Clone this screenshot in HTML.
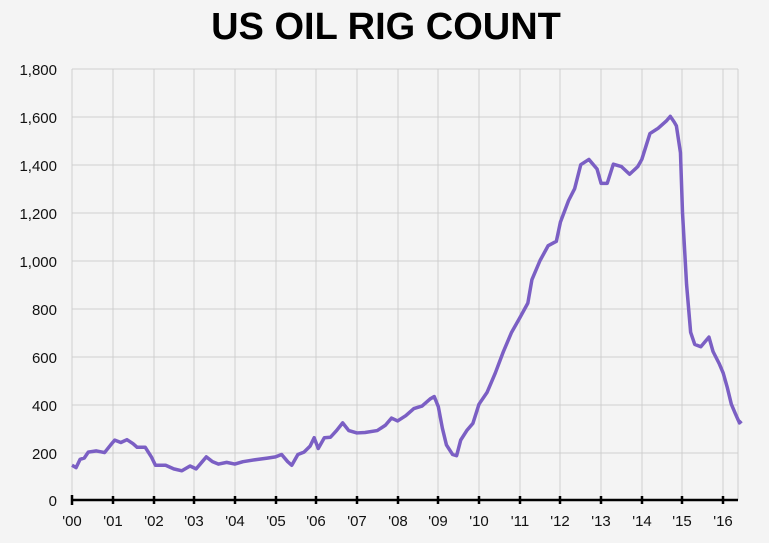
<!DOCTYPE html>
<html><head><style>
body{margin:0;background:#f4f4f4;width:769px;height:543px;overflow:hidden;font-family:"Liberation Sans",sans-serif}
</style></head><body>
<svg width="769" height="543" xmlns="http://www.w3.org/2000/svg" style="position:absolute;left:0;top:0">
<rect width="769" height="543" fill="#f4f4f4"/>
<text x="386" y="39" text-anchor="middle" font-family="Liberation Sans, sans-serif" font-weight="bold" font-size="38" fill="#000">US OIL RIG COUNT</text>
<g stroke="#cfcfcf" stroke-width="1">
<line x1="72" x2="738" y1="69" y2="69"/><line x1="72" x2="738" y1="117" y2="117"/><line x1="72" x2="738" y1="165" y2="165"/><line x1="72" x2="738" y1="213" y2="213"/><line x1="72" x2="738" y1="261" y2="261"/><line x1="72" x2="738" y1="309" y2="309"/><line x1="72" x2="738" y1="357" y2="357"/><line x1="72" x2="738" y1="405" y2="405"/><line x1="72" x2="738" y1="453" y2="453"/>
<line x1="72" x2="72" y1="69" y2="500"/><line x1="113" x2="113" y1="69" y2="500"/><line x1="154" x2="154" y1="69" y2="500"/><line x1="194" x2="194" y1="69" y2="500"/><line x1="235" x2="235" y1="69" y2="500"/><line x1="276" x2="276" y1="69" y2="500"/><line x1="316" x2="316" y1="69" y2="500"/><line x1="357" x2="357" y1="69" y2="500"/><line x1="398" x2="398" y1="69" y2="500"/><line x1="438" x2="438" y1="69" y2="500"/><line x1="479" x2="479" y1="69" y2="500"/><line x1="520" x2="520" y1="69" y2="500"/><line x1="560" x2="560" y1="69" y2="500"/><line x1="601" x2="601" y1="69" y2="500"/><line x1="642" x2="642" y1="69" y2="500"/><line x1="682" x2="682" y1="69" y2="500"/><line x1="723" x2="723" y1="69" y2="500"/><line x1="738" x2="738" y1="69" y2="500"/>
</g>
<g font-family="Liberation Sans, sans-serif" font-size="15" fill="#111" text-anchor="end">
<text x="57" y="75">1,800</text><text x="57" y="123">1,600</text><text x="57" y="171">1,400</text><text x="57" y="219">1,200</text><text x="57" y="267">1,000</text><text x="57" y="315">800</text><text x="57" y="363">600</text><text x="57" y="411">400</text><text x="57" y="459">200</text><text x="57" y="506">0</text>
</g>
<g font-family="Liberation Sans, sans-serif" font-size="15" fill="#111" text-anchor="middle">
<text x="72" y="526">'00</text><text x="113" y="526">'01</text><text x="154" y="526">'02</text><text x="194" y="526">'03</text><text x="235" y="526">'04</text><text x="276" y="526">'05</text><text x="316" y="526">'06</text><text x="357" y="526">'07</text><text x="398" y="526">'08</text><text x="438" y="526">'09</text><text x="479" y="526">'10</text><text x="520" y="526">'11</text><text x="560" y="526">'12</text><text x="601" y="526">'13</text><text x="642" y="526">'14</text><text x="682" y="526">'15</text><text x="723" y="526">'16</text>
</g>
<g stroke="#000" stroke-width="2.5">
<line x1="72" x2="738" y1="500" y2="500"/>
<line x1="72" x2="72" y1="495" y2="505"/><line x1="113" x2="113" y1="496" y2="504"/><line x1="154" x2="154" y1="496" y2="504"/><line x1="194" x2="194" y1="496" y2="504"/><line x1="235" x2="235" y1="496" y2="504"/><line x1="276" x2="276" y1="496" y2="504"/><line x1="316" x2="316" y1="496" y2="504"/><line x1="357" x2="357" y1="496" y2="504"/><line x1="398" x2="398" y1="496" y2="504"/><line x1="438" x2="438" y1="496" y2="504"/><line x1="479" x2="479" y1="496" y2="504"/><line x1="520" x2="520" y1="496" y2="504"/><line x1="560" x2="560" y1="496" y2="504"/><line x1="601" x2="601" y1="496" y2="504"/><line x1="642" x2="642" y1="496" y2="504"/><line x1="682" x2="682" y1="496" y2="504"/><line x1="723" x2="723" y1="496" y2="504"/>
</g>
<g transform="translate(72,500) scale(40.7,-0.2395)">
<polyline fill="none" stroke="#7b5fc4" stroke-width="3.5" stroke-linejoin="round" vector-effect="non-scaling-stroke" points="0,145 0.1,135 0.2,170 0.3,175 0.4,200 0.6,205 0.8,198 0.95,230 1.05,250 1.2,240 1.35,252 1.5,235 1.6,220 1.8,220 1.95,180 2.05,145 2.3,145 2.5,130 2.7,122 2.9,142 3.05,130 3.2,160 3.3,180 3.45,160 3.6,150 3.8,157 4,150 4.2,160 4.5,168 4.8,175 5,180 5.15,190 5.3,160 5.4,145 5.55,190 5.7,200 5.85,225 5.95,260 6.05,215 6.2,260 6.35,262 6.5,290 6.65,322 6.8,290 7,280 7.2,282 7.5,290 7.7,312 7.85,342 8,330 8.2,352 8.4,382 8.6,392 8.8,422 8.9,432 9.0,390 9.1,300 9.2,230 9.35,190 9.45,185 9.55,250 9.7,290 9.85,320 10.0,400 10.2,450 10.4,530 10.6,620 10.8,700 11,760 11.2,822 11.3,920 11.5,1000 11.7,1062 11.9,1080 12.0,1160 12.2,1250 12.35,1300 12.5,1400 12.7,1422 12.9,1382 13.0,1322 13.15,1322 13.3,1402 13.5,1392 13.7,1360 13.9,1392 14.0,1422 14.2,1530 14.4,1552 14.6,1582 14.7,1602 14.8,1577 14.85,1562 14.95,1450 15.0,1200 15.1,900 15.2,700 15.3,650 15.45,640 15.6,670 15.65,680 15.75,620 15.9,570 16.0,530 16.1,470 16.2,400 16.3,360 16.4,322 16.45,330"/>
</g>
</svg>
</body></html>
